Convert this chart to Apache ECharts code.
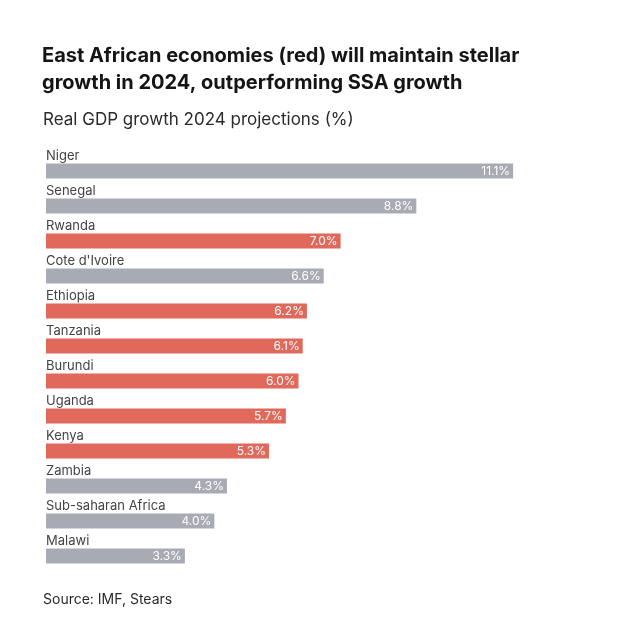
<!DOCTYPE html>
<html>
<head>
<meta charset="utf-8">
<script src="https://cdn.jsdelivr.net/npm/echarts@6/dist/echarts.min.js"></script>
<style>
  html, body { margin: 0; padding: 0; background: #fff; }
  #chart { width: 640px; height: 640px; }
</style>
</head>
<body>
<div id="chart"></div>
<script>
var countries = ['Niger', 'Senegal', 'Rwanda', "Cote d'Ivoire", 'Ethiopia', 'Tanzania',
  'Burundi', 'Uganda', 'Kenya', 'Zambia', 'Sub-saharan Africa', 'Malawi'];
var growth = [11.1, 8.8, 7.0, 6.6, 6.2, 6.1, 6.0, 5.7, 5.3, 4.3, 4.0, 3.3];
var eastAfrica = ['Rwanda', 'Ethiopia', 'Tanzania', 'Burundi', 'Uganda', 'Kenya'];

var RED = '#e0695b', GREY = '#a8abb3';
var FONT = 'Inter, "Noto Sans", sans-serif';

var chart = echarts.init(document.getElementById('chart'));
chart.setOption({
  backgroundColor: '#fff',
  title: [{
    text: 'East African economies (red) will maintain stellar\ngrowth in 2024, outperforming SSA growth',
    left: 37, top: 37,
    textStyle: { fontFamily: FONT, fontSize: 20, fontWeight: 'bold', color: '#151515', lineHeight: 27 }
  }, {
    text: 'Real GDP growth 2024 projections (%)',
    left: 38, top: 106,
    textStyle: { fontFamily: FONT, fontSize: 17, fontWeight: 'normal', color: '#2a2a2a' }
  }, {
    text: 'Source: IMF, Stears',
    left: 38, top: 588,
    textStyle: { fontFamily: FONT, fontSize: 14, fontWeight: 'normal', color: '#2a2a2a' }
  }],
  grid: { left: 46, right: 89, top: 153.5, height: 420 },
  xAxis: { type: 'value', min: 0, max: 12, show: false },
  yAxis: {
    type: 'category', inverse: true, data: countries,
    axisLine: { show: false }, axisTick: { show: false },
    axisLabel: {
      inside: true, verticalAlign: 'bottom', margin: 0,
      padding: [0, 0, 8, 0],
      fontFamily: FONT, fontSize: 13, color: '#444'
    }
  },
  series: [{
    type: 'bar', barWidth: 15, animation: false,
    data: growth.map(function (v, i) {
      return { value: v, itemStyle: { color: eastAfrica.indexOf(countries[i]) >= 0 ? RED : GREY } };
    }),
    label: {
      show: true, position: 'insideRight', distance: 3,
      fontFamily: FONT, fontSize: 12, color: '#fff', letterSpacing: 1,
      formatter: function (p) { return p.value.toFixed(1) + '%'; }
    }
  }]
});
</script>
</body>
</html>
